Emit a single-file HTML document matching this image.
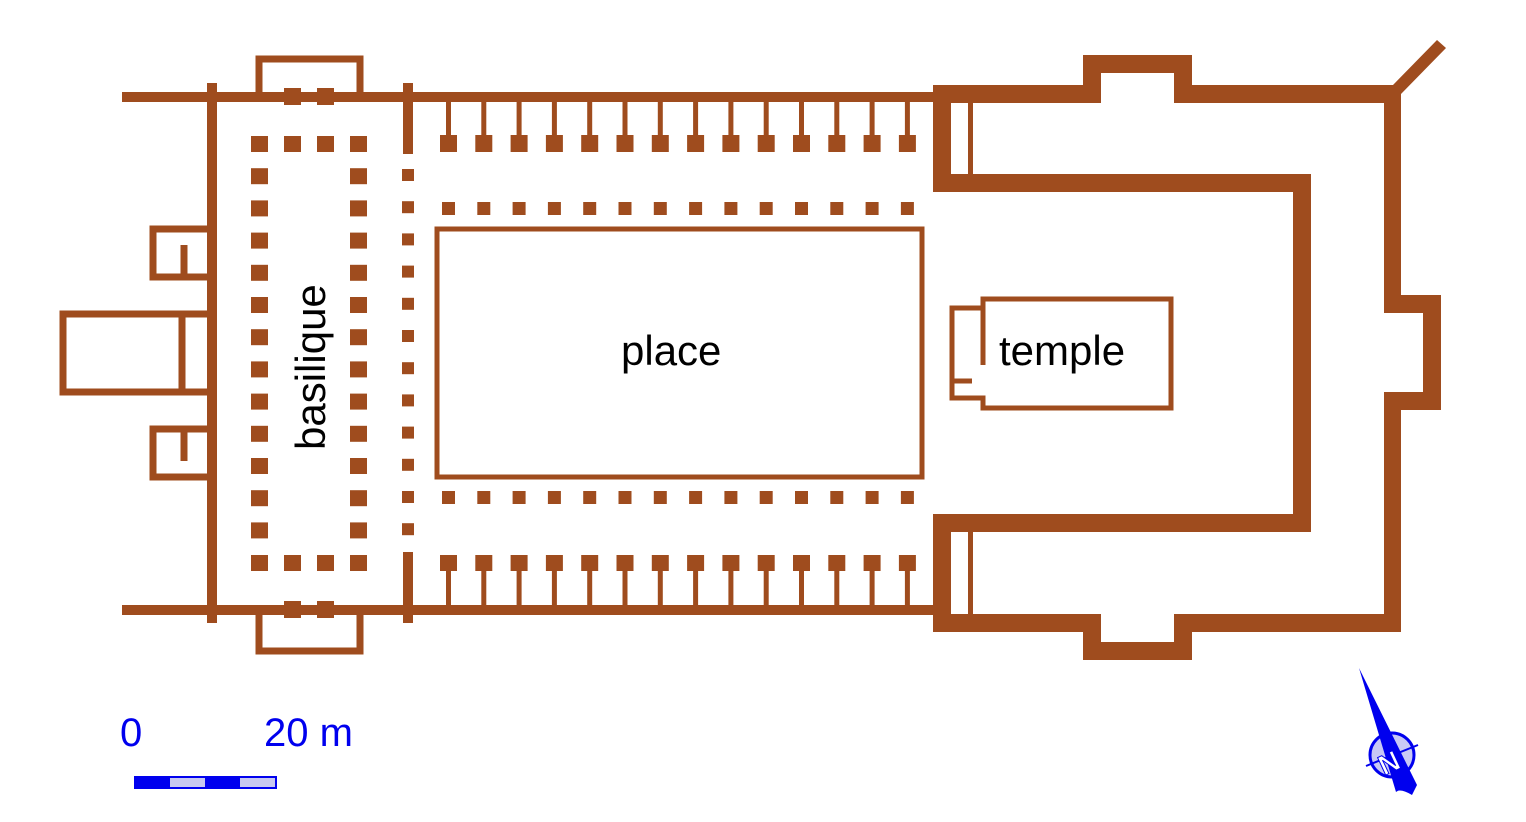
<!DOCTYPE html>
<html><head><style>body{margin:0;background:#fff}svg{display:block}</style></head><body>
<svg width="1526" height="822" viewBox="0 0 1526 822" xmlns="http://www.w3.org/2000/svg" font-family="Liberation Sans, sans-serif">
<g fill="#9f4c1e" stroke="none">
<rect x="122" y="92" width="812" height="10"/>
<rect x="122" y="605" width="812" height="10"/>
<rect x="207" y="83" width="10" height="540"/>
<rect x="403" y="83" width="10" height="71"/>
<rect x="403" y="552" width="10" height="71"/>
<rect x="284" y="88" width="17" height="17"/><rect x="317" y="88" width="17" height="17"/>
<rect x="284" y="601" width="17" height="17"/><rect x="317" y="601" width="17" height="17"/>
</g>
<g fill="none" stroke="#9f4c1e" stroke-width="7">
<path d="M259 97 V59 H360 V97"/>
<path d="M259 610 V651 H360 V610"/>
<path d="M207 229 H153 V277 H207 M184 277 V245"/>
<path d="M207 429 H153 V477 H207 M184 429 V461"/>
<path d="M207 314 H63 V392 H207 M182 314 V392"/>
<rect x="437" y="229" width="485" height="248" stroke-width="5"/>
<path d="M983 299 H1171 V408 H983 V398 H952 V308 H983 Z" stroke-width="5"/>
<path d="M983 308 V365 M952 381 H972" stroke-width="5"/>
</g>
<g fill="#9f4c1e" id="cols"></g>
<g fill="#9f4c1e">
<path d="M933 85 H1083 V55 H1192 V85 H1393 L1437 40 L1446 48 L1401 94 V295 H1441 V410 H1401 V632 H1192 V660 H1083 V632 H933 V614 H1101 V642 H1174 V614 H1384 V392 H1423 V313 H1384 V103 H1174 V73 H1101 V103 H933 Z"/>
<rect x="933" y="85" width="18" height="107"/>
<rect x="933" y="514" width="18" height="118"/>
<rect x="933" y="174" width="378" height="18"/>
<rect x="1293" y="174" width="18" height="358"/>
<rect x="933" y="514" width="378" height="18"/>
<rect x="968" y="103" width="5" height="71"/>
<rect x="968" y="532" width="5" height="82"/>
</g>
<script>
var g=document.getElementById('cols'),ns='http://www.w3.org/2000/svg';
function r(x,y,w,h){var e=document.createElementNS(ns,'rect');e.setAttribute('x',x);e.setAttribute('y',y);e.setAttribute('width',w);e.setAttribute('height',h);g.appendChild(e);}
var xs=[251,284,317,350];
xs.forEach(function(x){r(x,136,17,16);r(x,555,17,16);});
for(var i=1;i<13;i++){var y=136+i*32.2;r(251,y,17,16);r(350,y,17,16);}
for(var i=0;i<12;i++){r(402,169+i*32.2,12,12);}
for(var i=0;i<14;i++){var x=440+i*35.3;
 r(x+6,97,5,40);r(x,135,17,17);
 r(x+6,570,5,40);r(x,555,17,16);
 r(x+2,202,13,13);r(x+2,491,13,13);}
</script>
<g font-size="42" fill="#000">
<text x="0" y="0" transform="translate(325,450) rotate(-90)">basilique</text>
<text x="621" y="365">place</text>
<text x="999" y="365">temple</text>
</g>
<g fill="#0000ee" font-size="40">
<text x="120" y="746">0</text>
<text x="264" y="746">20 m</text>
</g>
<rect x="135" y="777" width="141" height="11" fill="#c8c8f0" stroke="#0000ee" stroke-width="2"/>
<rect x="135" y="777" width="35" height="11" fill="#0000ee"/>
<rect x="205" y="777" width="35" height="11" fill="#0000ee"/>
<g>
<circle cx="1392" cy="755" r="22" fill="#c8c8f5" stroke="#0000ee" stroke-width="3"/>
<line x1="1366" y1="766" x2="1418" y2="745" stroke="#0000ee" stroke-width="2"/>
<path d="M1359 668 L1417 785 L1412 795 Q1400 788 1396 792 Z" fill="#0000ee"/>
<text x="1378" y="771" font-size="28" font-weight="bold" fill="#fff" stroke="#0000ee" stroke-width="1" transform="rotate(-25 1392 760)">N</text>
</g>
</svg>
</body></html>
